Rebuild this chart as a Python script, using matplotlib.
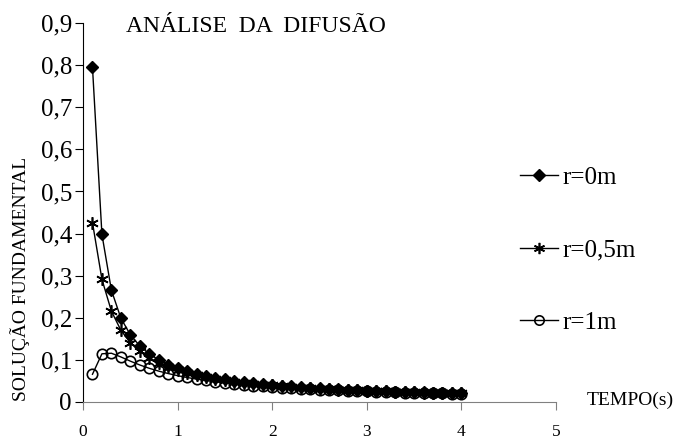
import matplotlib
matplotlib.use("Agg")
import matplotlib.pyplot as plt
from matplotlib.ticker import FuncFormatter

# tempo (s), de 0,1 em 0,1 ate 4,0
tempo = [round(0.1 * i, 1) for i in range(1, 41)]

r0 = [0.7958, 0.3979, 0.2653, 0.1989, 0.1592, 0.1326, 0.1137, 0.0995, 0.0884, 0.0796,
      0.0723, 0.0663, 0.0612, 0.0568, 0.0531, 0.0497, 0.0468, 0.0442, 0.0419, 0.0398,
      0.0379, 0.0362, 0.0346, 0.0332, 0.0318, 0.0306, 0.0295, 0.0284, 0.0274, 0.0265,
      0.0257, 0.0249, 0.0241, 0.0234, 0.0227, 0.0221, 0.0215, 0.0209, 0.0204, 0.0199]

r05 = [0.4260, 0.2911, 0.2154, 0.1701, 0.1405, 0.1195, 0.1040, 0.0920, 0.0825, 0.0748,
       0.0683, 0.0630, 0.0583, 0.0543, 0.0509, 0.0478, 0.0451, 0.0427, 0.0405, 0.0386,
       0.0368, 0.0352, 0.0337, 0.0323, 0.0310, 0.0299, 0.0288, 0.0278, 0.0269, 0.0260,
       0.0252, 0.0244, 0.0237, 0.0230, 0.0223, 0.0217, 0.0211, 0.0206, 0.0200, 0.0196]

r1 = [0.0653, 0.1140, 0.1153, 0.1065, 0.0965, 0.0874, 0.0795, 0.0728, 0.0670, 0.0620,
      0.0576, 0.0538, 0.0505, 0.0475, 0.0449, 0.0425, 0.0404, 0.0385, 0.0367, 0.0351,
      0.0336, 0.0323, 0.0310, 0.0299, 0.0288, 0.0278, 0.0269, 0.0260, 0.0252, 0.0244,
      0.0237, 0.0230, 0.0224, 0.0217, 0.0212, 0.0206, 0.0201, 0.0196, 0.0191, 0.0187]

legendas = ["r=0m", "r=0,5m", "r=1m"]

plt.rcParams['font.family'] = ['Liberation Serif', 'DejaVu Serif']

fig = plt.figure(figsize=(6.76, 4.43), dpi=100)
ax = fig.add_axes([0.1228, 0.0932, 0.6997, 0.8542])

ax.plot(tempo, r0, color='black', lw=1, marker='D', ms=6.5, mfc='black', label=legendas[0])
ax.plot(tempo, r05, color='black', lw=1, marker=(6, 2, 0), ms=9, mew=1.2, label=legendas[1])
ax.plot(tempo, r1, color='black', lw=1, marker='o', ms=7.5, mfc='none', mew=1.2, label=legendas[2])

ax.set_xlim(0, 5)
ax.set_ylim(0, 0.9)
ax.set_xticks([0, 1, 2, 3, 4, 5])
ax.set_yticks([0.1 * i for i in range(10)])
ax.yaxis.set_major_formatter(FuncFormatter(lambda v, p: "0" if v == 0 else ("%.1f" % v).replace('.', ',')))

for s in ['top', 'right']:
    ax.spines[s].set_visible(False)
ax.spines['left'].set_color('black')
ax.spines['bottom'].set_color('#808080')
ax.tick_params(axis='y', direction='out', length=6, labelsize=18, pad=2)
ax.tick_params(axis='x', direction='out', length=6, labelsize=12.5, color='#808080', pad=10)
for ln in ax.lines:
    ln.set_clip_on(False)

fig.text(256 / 676, 1 - 27 / 443, "ANÁLISE  DA  DIFUSÃO", fontsize=17, ha='center', va='center')
fig.text(587 / 676, 1 - 400 / 443, "TEMPO(s)", fontsize=14, ha='left', va='center')
fig.text(20 / 676, 1 - 279 / 443, "SOLUÇÃO FUNDAMENTAL", fontsize=14, rotation=90, ha='center', va='center')

ax.legend(loc='center left', bbox_to_anchor=(520 / 676, 1 - 250 / 443), bbox_transform=fig.transFigure,
          frameon=False, fontsize=18, handlelength=1.5, handletextpad=0.2, labelspacing=2.0,
          borderpad=0, borderaxespad=0, markerscale=0.9)

fig.savefig("out.png", dpi=100)
